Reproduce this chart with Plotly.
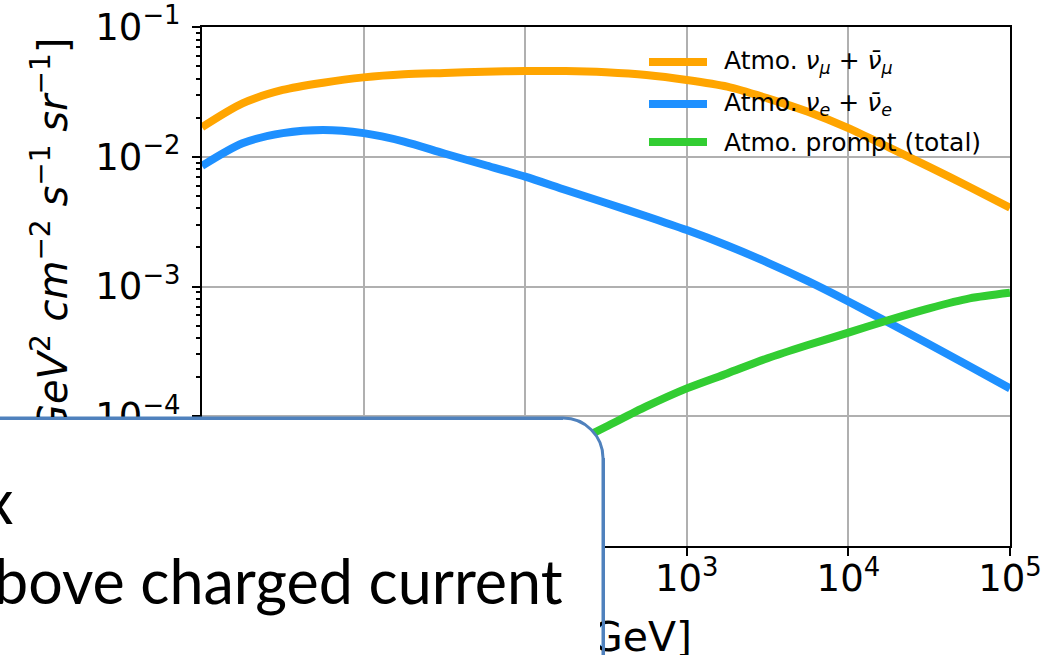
import plotly.graph_objects as go

# ---------------- data (quarter-decade steps) ----------------
E_numu = [1, 1.78, 3.16, 5.62, 10, 17.8, 31.6, 56.2, 100, 178, 316, 562, 1000,
          1780, 3160, 5620, 10000, 17800, 31600, 56200, 100000]
flux_numu = [0.0169, 0.0258, 0.0327, 0.0372, 0.0409, 0.0432, 0.0442, 0.0452, 0.0458, 0.0458,
             0.0448, 0.0427, 0.0391, 0.0347, 0.0282, 0.0222, 0.0166, 0.0118, 0.00835,
             0.00585, 0.00405]

E_nue = [1, 1.78, 3.16, 5.62, 10, 17.8, 31.6, 56.2, 100, 178, 316, 562, 1000,
         1780, 3160, 5620, 10000, 17800, 31600, 56200, 100000]
flux_nue = [0.0085, 0.0127, 0.0152, 0.0161, 0.0152, 0.0131, 0.0106, 0.00864, 0.00702, 0.00554,
            0.0044, 0.00348, 0.00272, 0.00207, 0.00153, 0.0011, 0.000767, 0.000525,
            0.000359, 0.000243, 0.000164]

E_prompt = [100, 178, 316, 562, 1000, 1780, 3160, 5620, 10000, 17800, 31600, 56200, 100000]
flux_prompt = [4.1e-5, 5.8e-5, 8.3e-5, 1.19e-4, 1.64e-4, 2.14e-4, 2.8e-4, 3.54e-4, 4.41e-4,
               5.52e-4, 6.79e-4, 8.1e-4, 8.95e-4]

series_names = ["Atmo. <i>ν</i><sub><i>μ</i></sub> + <i>ν̄</i><sub><i>μ</i></sub>",
                "Atmo. <i>ν</i><sub><i>e</i></sub> + <i>ν̄</i><sub><i>e</i></sub>",
                "Atmo. prompt (total)"]
series_colors = ["#FFA500", "#1E90FF", "#32CD32"]

x_tickvals = [1, 10, 100, 1000, 10000, 100000]
x_ticktext = ["", "", "", "10<sup>3</sup>", "10<sup>4</sup>", "10<sup>5</sup>"]
y_tickvals = [1e-5, 1e-4, 1e-3, 1e-2, 1e-1]
y_ticktext = ["", "10<sup>−4</sup>", "10<sup>−3</sup>", "10<sup>−2</sup>", "10<sup>−1</sup>"]

x_title = "<i>E</i><sub><i>ν</i></sub> [GeV]"
y_title = ("<i>E</i><sup>2</sup><i>Φ</i> [<i>GeV</i><sup>2</sup> <i>cm</i><sup>−2</sup> "
           "<i>s</i><sup>−1</sup> <i>sr</i><sup>−1</sup>]")
overlay_lines = ["x", "bove charged current"]

# ---------------- layout geometry ----------------
W, H = 1063, 655
L, R, T, B = 202, 1010, 27, 546


def px(x):
    return (x - L) / (R - L)


def py(y):
    return (B - y) / (B - T)


FONT = "DejaVu Sans"
BOX_COLOR = "#4F81BD"

fig = go.Figure()
for xs, ys, name, col in zip([E_numu, E_nue, E_prompt],
                             [flux_numu, flux_nue, flux_prompt],
                             series_names, series_colors):
    fig.add_trace(go.Scatter(x=xs, y=ys, mode="lines", name=name,
                             line=dict(color=col, width=8, shape="spline", smoothing=0.8),
                             showlegend=False))

axis_common = dict(type="log", tickmode="array", automargin=False,
                   showgrid=True, gridcolor="#b0b0b0", gridwidth=1.8,
                   showline=True, linecolor="black", linewidth=2, mirror=True,
                   ticks="outside", ticklen=8, tickwidth=2, tickcolor="black",
                   ticklabeloverflow="allow",
                   tickfont=dict(family=FONT, size=37, color="black"), zeroline=False)

fig.update_xaxes(range=[0, 5], tickvals=x_tickvals, ticktext=x_ticktext,
                 ticklabelstandoff=-9, **axis_common)
fig.update_yaxes(range=[-5, -1], tickvals=y_tickvals, ticktext=y_ticktext,
                 ticklabelstandoff=4, **axis_common,
                 minor=dict(ticks="outside", ticklen=4, tickwidth=1.5, tickcolor="black",
                            tickmode="array",
                            tickvals=[m * 10.0 ** e for e in range(-5, -1) for m in range(2, 10)],
                            showgrid=False))

shapes = []
# legend swatches
leg_y = [62, 104, 142]
for yy, col in zip(leg_y, series_colors):
    shapes.append(dict(type="line", xref="paper", yref="paper", x0=px(649), x1=px(707),
                       y0=py(yy), y1=py(yy), line=dict(color=col, width=8), layer="above"))

# rounded overlay box (slide callout covering the lower-left of the chart)
k = 0.552 * 40
path = (f"M {px(-20)},{py(418)} L {px(563)},{py(418)} "
        f"C {px(563 + k)},{py(418)} {px(603)},{py(458 - k)} {px(603)},{py(458)} "
        f"L {px(603)},{py(700)} L {px(-20)},{py(700)} Z")
shapes.append(dict(type="path", xref="paper", yref="paper", path=path,
                   fillcolor="white", line=dict(color=BOX_COLOR, width=3), layer="above"))

annotations = []
# legend labels
for yy, name in zip(leg_y, series_names):
    annotations.append(dict(xref="paper", yref="paper", x=px(722), y=py(yy), xanchor="left",
                            yanchor="middle", text=name, showarrow=False,
                            font=dict(family=FONT, size=25, color="black")))
# axis titles
annotations.append(dict(xref="paper", yref="paper", x=px(606), y=py(640), xanchor="center",
                        yanchor="middle", text=x_title, showarrow=False,
                        font=dict(family=FONT, size=41, color="black")))
annotations.append(dict(xref="paper", yref="paper", x=px(50), y=py(36), xanchor="center",
                        yanchor="top", text=y_title, textangle=-90, showarrow=False,
                        font=dict(family=FONT, size=40, color="black")))


def rect(x0, y0, x1, y1, color):
    return dict(xref="paper", yref="paper", x=px(x0), y=py(y0), xanchor="left", yanchor="top",
                width=x1 - x0, height=y1 - y0, text="\u00a0", showarrow=False,
                bgcolor=color, borderwidth=0, borderpad=0, font=dict(size=1))


# white inside of the callout, then its border on top
annotations.append(rect(-10, 460, 600, 680, "white"))
annotations.append(rect(-10, 419, 562, 462, "white"))
annotations.append(rect(-10, 416.5, 563, 419.5, BOX_COLOR))
annotations.append(rect(601.5, 458, 604.5, 680, BOX_COLOR))

# callout text
annotations.append(dict(xref="paper", yref="paper", x=px(15), y=py(500), xanchor="right",
                        yanchor="middle", text=overlay_lines[0], showarrow=False,
                        font=dict(family="Lato", size=61, color="black")))
annotations.append(dict(xref="paper", yref="paper", x=px(565), y=py(580), xanchor="right",
                        yanchor="middle", text=overlay_lines[1], showarrow=False,
                        font=dict(family="Lato", size=61, color="black")))

fig.update_layout(width=W, height=H, margin=dict(l=L, r=W - R, t=T, b=H - B, pad=0,
                                                 autoexpand=False),
                  paper_bgcolor="white", plot_bgcolor="white", showlegend=False,
                  shapes=shapes, annotations=annotations)

fig.write_html("out.html", config={"displayModeBar": False},
               post_script="document.body.style.margin='0';")
